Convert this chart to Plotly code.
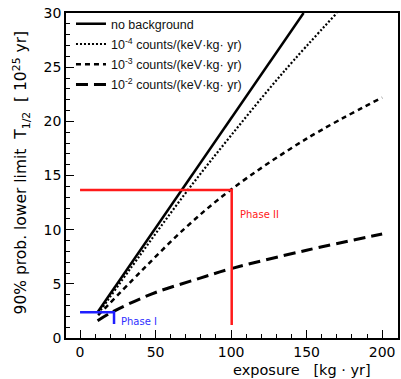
import plotly.graph_objects as go

# --- data ---
x_nobkg = [11.6, 148.0]
y_nobkg = [2.37, 30.0]

x_b4 = [12, 40, 70, 100, 135, 170]
y_b4 = [2.25, 7.7, 13.4, 18.7, 24.6, 30.0]

x_b3 = [12, 40, 70, 100, 150, 200]
y_b3 = [2.1, 6.1, 10.2, 13.7, 18.4, 22.2]

x_b2 = [11.6, 20, 30, 50, 79, 100, 150, 200]
y_b2 = [1.6, 2.3, 3.0, 4.2, 5.5, 6.4, 8.1, 9.6]

phase1_x = [0, 22.5, 22.5]
phase1_y = [2.37, 2.37, 1.3]
phase2_x = [0, 100.4, 100.4]
phase2_y = [13.67, 13.67, 1.2]

legend_names = [
    "no background",
    "10<sup>-4</sup> counts/(keV·kg· yr)",
    "10<sup>-3</sup> counts/(keV·kg· yr)",
    "10<sup>-2</sup> counts/(keV·kg· yr)",
]

FONT = "DejaVu Sans"

fig = go.Figure()
fig.add_trace(go.Scatter(x=x_nobkg, y=y_nobkg, mode="lines", name=legend_names[0],
                         line=dict(color="black", width=2.5), legendgroup="a"))
fig.add_trace(go.Scatter(x=x_b4, y=y_b4, mode="lines", name=legend_names[1], line_shape="spline",
                         line=dict(color="black", width=2.2, dash="2px,2px"), legendgroup="b"))
fig.add_trace(go.Scatter(x=x_b3, y=y_b3, mode="lines", name=legend_names[2], line_shape="spline",
                         line=dict(color="black", width=2.5, dash="5px,4px"), legendgroup="c"))
fig.add_trace(go.Scatter(x=x_b2, y=y_b2, mode="lines", name=legend_names[3], line_shape="spline",
                         line=dict(color="black", width=3, dash="12px,6px"), legendgroup="d"))

fig.add_trace(go.Scatter(x=phase1_x, y=phase1_y, mode="lines", showlegend=False,
                         line=dict(color="#1f1fff", width=2.5)))
fig.add_trace(go.Scatter(x=phase2_x, y=phase2_y, mode="lines", showlegend=False,
                         line=dict(color="#ff1a1a", width=2.5)))

fig.add_annotation(x=26, y=1.55, xref="x", yref="y", text="Phase I", showarrow=False,
                   xanchor="left", yanchor="middle", font=dict(family=FONT, size=10, color="#3030ff"))
fig.add_annotation(x=104.5, y=11.4, xref="x", yref="y", text="Phase II", showarrow=False,
                   xanchor="left", yanchor="middle", font=dict(family=FONT, size=10, color="#ff2020"))

# axis titles
fig.add_annotation(x=-0.135, y=0.51, xref="paper", yref="paper",
                   text="90% prob. lower limit\u00a0\u00a0T<sub>1/2</sub>\u00a0\u00a0[ 10<sup>25</sup> yr]",
                   textangle=-90, showarrow=False, xanchor="center", yanchor="middle",
                   font=dict(family=FONT, size=15.5, color="black"))
fig.add_annotation(x=0.71, y=-0.097, xref="paper", yref="paper",
                   text="exposure\u00a0\u00a0\u00a0[kg\u00a0·\u00a0yr]",
                   showarrow=False, xanchor="center", yanchor="middle",
                   font=dict(family=FONT, size=14.5, color="black"))

fig.update_layout(
    width=401, height=379,
    margin=dict(l=66, r=1, t=13, b=41),
    paper_bgcolor="white", plot_bgcolor="white",
    font=dict(family=FONT, size=14, color="black"),
    legend=dict(x=0.015, y=1.012, xanchor="left", yanchor="top",
                bgcolor="rgba(0,0,0,0)", borderwidth=0,
                font=dict(family="Liberation Sans", size=12.5, color="#111"),
                traceorder="grouped", tracegroupgap=1, itemwidth=30),
    showlegend=True,
)
fig.update_xaxes(range=[-9.3, 210.5], tickvals=[0, 50, 100, 150, 200], ticks="inside",
                 ticklen=8, tickwidth=1, tickcolor="black",
                 minor=dict(dtick=10, tick0=0, ticks="inside", ticklen=4, tickcolor="black"),
                 showline=True, linecolor="black", linewidth=1.5, mirror=True,
                 showgrid=False, zeroline=False, tickfont=dict(size=14))
fig.update_yaxes(range=[0, 30], tickvals=[0, 5, 10, 15, 20, 25, 30], ticks="inside",
                 ticklen=8, tickwidth=1, tickcolor="black",
                 minor=dict(dtick=1, tick0=0, ticks="inside", ticklen=4, tickcolor="black"),
                 showline=True, linecolor="black", linewidth=1.5, mirror=True,
                 showgrid=False, zeroline=False, tickfont=dict(size=14))

fig.write_html("out.html")
